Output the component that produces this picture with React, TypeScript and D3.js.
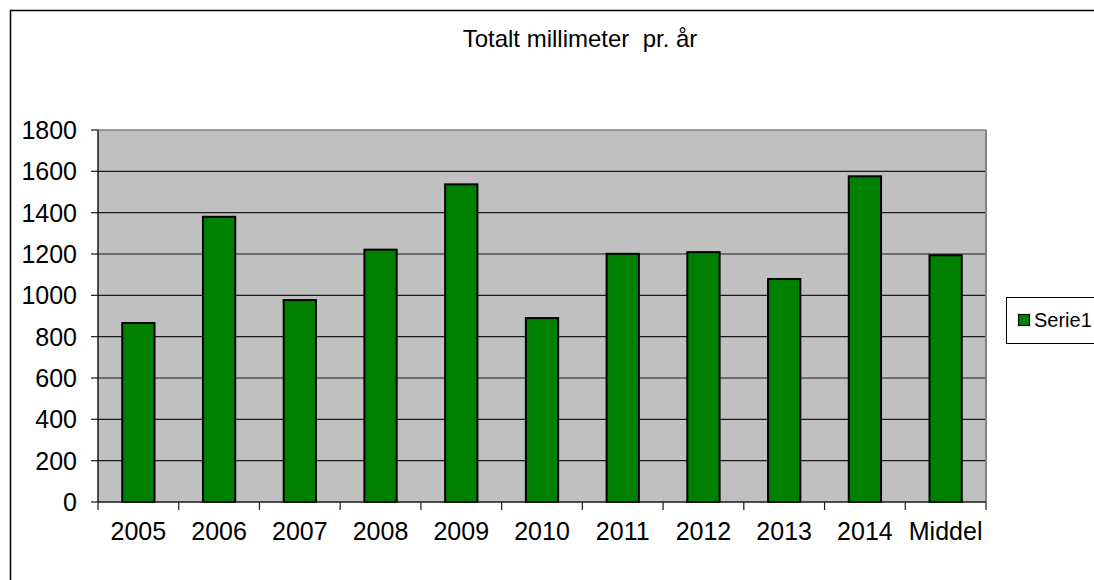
import React from "react";
import * as d3 from "d3";

const categories = ["2005", "2006", "2007", "2008", "2009", "2010", "2011", "2012", "2013", "2014", "Middel"];
const values = [866, 1380, 977, 1221, 1537, 890, 1201, 1209, 1079, 1576, 1194];
const yTicks = [0, 200, 400, 600, 800, 1000, 1200, 1400, 1600, 1800];
const title = "Totalt millimeter  pr. år";
const seriesName = "Serie1";

export default function App() {
  const W = 1094, H = 580;
  const left = 98, right = 986, top = 130, bottom = 502;
  const x = d3.scaleBand<string>().domain(categories).range([left, right]).padding(0);
  const y = d3.scaleLinear().domain([0, 1800]).range([bottom, top]);
  const bw = x.bandwidth() * 0.4;
  const font = "'Liberation Sans', Arial, sans-serif";
  const tickXs = categories.map((c) => x(c)!).concat([right]);

  return (
    <svg width={W} height={H} style={{ position: "absolute", left: 0, top: 0, background: "#fff" }} fontFamily={font}>
      <rect x={10.5} y={10.5} width={W + 20} height={H + 20} fill="#fff" stroke="#000" strokeWidth={1.5} />
      <text x={580} y={47} textAnchor="middle" fontSize={24} fill="#000" style={{ whiteSpace: "pre" }}>{title}</text>
      <rect x={left} y={top} width={right - left} height={bottom - top} fill="#c0c0c0" />
      {yTicks.filter((t) => t > 0).map((t) => (
        <line key={"g" + t} x1={left} x2={right} y1={y(t)} y2={y(t)} stroke={t === 1800 ? "#808080" : "#1a1a1a"} strokeWidth={t === 1800 ? 1.5 : 1.2} />
      ))}
      <line x1={right} x2={right} y1={top} y2={bottom} stroke="#808080" strokeWidth={2} />
      {categories.map((c, i) => {
        const cx = x(c)! + x.bandwidth() / 2;
        return (
          <rect key={c} x={cx - bw / 2} y={y(values[i])} width={bw} height={bottom - y(values[i])} fill="#008000" stroke="#000" strokeWidth={2} />
        );
      })}
      <line x1={left} x2={left} y1={top} y2={bottom} stroke="#1a1a1a" strokeWidth={1.5} />
      <line x1={left} x2={right} y1={bottom} y2={bottom} stroke="#1a1a1a" strokeWidth={1.5} />
      {yTicks.map((t) => (
        <g key={"y" + t}>
          <line x1={left - 7} x2={left} y1={y(t)} y2={y(t)} stroke="#1a1a1a" strokeWidth={1.2} />
          <text x={77} y={y(t)} dy="0.36em" textAnchor="end" fontSize={25} fill="#000">{t}</text>
        </g>
      ))}
      {tickXs.map((tx, i) => (
        <line key={"xt" + i} x1={tx} x2={tx} y1={bottom} y2={bottom + 8} stroke="#1a1a1a" strokeWidth={1.2} />
      ))}
      {categories.map((c) => (
        <text key={"xl" + c} x={x(c)! + x.bandwidth() / 2} y={540} textAnchor="middle" fontSize={25} fill="#000">{c}</text>
      ))}
      <rect x={1006.5} y={297.5} width={120} height={46} fill="#fff" stroke="#000" strokeWidth={1} />
      <rect x={1018.5} y={314.5} width={11} height={11} fill="#008000" stroke="#000" strokeWidth={1.2} />
      <text x={1034} y={327} fontSize={20} fill="#000">{seriesName}</text>
    </svg>
  );
}
